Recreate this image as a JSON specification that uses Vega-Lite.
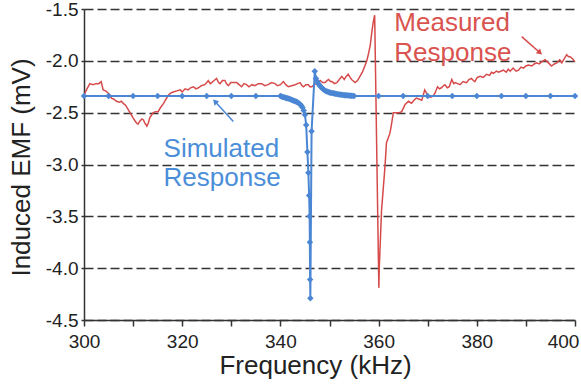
{
  "$schema": "https://vega.github.io/schema/vega-lite/v6.json",
  "width": 491,
  "height": 311,
  "autosize": {"type": "none"},
  "padding": {"left": 84, "top": 9, "right": 6, "bottom": 65},
  "background": "white",
  "config": {"view": {"stroke": null}, "font": "Liberation Sans"},
  "datasets": {
    "measured": [
      {"f": 300.0, "v": -2.33}, {"f": 300.6, "v": -2.27}, {"f": 301.2, "v": -2.22}, {"f": 301.8, "v": -2.23},
      {"f": 302.4, "v": -2.22}, {"f": 303.0, "v": -2.22}, {"f": 303.5, "v": -2.2}, {"f": 303.9, "v": -2.28},
      {"f": 304.4, "v": -2.29}, {"f": 304.9, "v": -2.31}, {"f": 305.3, "v": -2.33}, {"f": 305.6, "v": -2.36},
      {"f": 306.1, "v": -2.37}, {"f": 306.6, "v": -2.39}, {"f": 307.2, "v": -2.4}, {"f": 307.6, "v": -2.39},
      {"f": 308.0, "v": -2.41}, {"f": 308.5, "v": -2.43}, {"f": 309.0, "v": -2.47}, {"f": 309.5, "v": -2.51},
      {"f": 310.0, "v": -2.55}, {"f": 310.4, "v": -2.58}, {"f": 310.7, "v": -2.6}, {"f": 311.0, "v": -2.61},
      {"f": 311.4, "v": -2.58}, {"f": 311.8, "v": -2.56}, {"f": 312.1, "v": -2.57}, {"f": 312.4, "v": -2.6},
      {"f": 312.8, "v": -2.63}, {"f": 313.1, "v": -2.6}, {"f": 313.4, "v": -2.55}, {"f": 313.8, "v": -2.52},
      {"f": 314.1, "v": -2.5}, {"f": 314.6, "v": -2.49}, {"f": 315.1, "v": -2.49}, {"f": 315.6, "v": -2.45},
      {"f": 316.2, "v": -2.41}, {"f": 316.7, "v": -2.37}, {"f": 317.2, "v": -2.33}, {"f": 317.7, "v": -2.31},
      {"f": 318.2, "v": -2.3}, {"f": 318.9, "v": -2.29}, {"f": 319.6, "v": -2.28}, {"f": 320.0, "v": -2.3},
      {"f": 320.6, "v": -2.27}, {"f": 321.2, "v": -2.28}, {"f": 321.7, "v": -2.26}, {"f": 322.3, "v": -2.25},
      {"f": 322.8, "v": -2.27}, {"f": 323.3, "v": -2.26}, {"f": 323.9, "v": -2.24}, {"f": 324.6, "v": -2.23},
      {"f": 325.0, "v": -2.21}, {"f": 325.3, "v": -2.19}, {"f": 325.7, "v": -2.22}, {"f": 326.0, "v": -2.21},
      {"f": 326.5, "v": -2.19}, {"f": 327.0, "v": -2.17}, {"f": 327.4, "v": -2.21}, {"f": 327.7, "v": -2.22},
      {"f": 328.2, "v": -2.19}, {"f": 328.7, "v": -2.19}, {"f": 329.0, "v": -2.22}, {"f": 329.4, "v": -2.24},
      {"f": 329.9, "v": -2.21}, {"f": 330.4, "v": -2.21}, {"f": 331.1, "v": -2.21}, {"f": 331.6, "v": -2.23},
      {"f": 332.1, "v": -2.25}, {"f": 332.6, "v": -2.22}, {"f": 333.1, "v": -2.23}, {"f": 333.6, "v": -2.25},
      {"f": 334.2, "v": -2.23}, {"f": 334.8, "v": -2.24}, {"f": 335.5, "v": -2.22}, {"f": 336.2, "v": -2.22},
      {"f": 336.8, "v": -2.24}, {"f": 337.5, "v": -2.23}, {"f": 338.2, "v": -2.21}, {"f": 338.9, "v": -2.22},
      {"f": 339.4, "v": -2.24}, {"f": 340.0, "v": -2.23}, {"f": 340.6, "v": -2.2}, {"f": 341.1, "v": -2.23},
      {"f": 341.6, "v": -2.25}, {"f": 342.3, "v": -2.24}, {"f": 343.0, "v": -2.23}, {"f": 343.5, "v": -2.22},
      {"f": 344.0, "v": -2.21}, {"f": 344.4, "v": -2.24}, {"f": 344.7, "v": -2.25}, {"f": 345.2, "v": -2.23},
      {"f": 345.7, "v": -2.23}, {"f": 346.0, "v": -2.25}, {"f": 346.4, "v": -2.25}, {"f": 346.9, "v": -2.23},
      {"f": 347.4, "v": -2.22}, {"f": 348.1, "v": -2.19}, {"f": 348.6, "v": -2.21}, {"f": 349.1, "v": -2.21},
      {"f": 349.5, "v": -2.19}, {"f": 349.8, "v": -2.18}, {"f": 350.2, "v": -2.2}, {"f": 350.5, "v": -2.2},
      {"f": 351.0, "v": -2.22}, {"f": 351.5, "v": -2.21}, {"f": 352.0, "v": -2.18}, {"f": 352.5, "v": -2.15},
      {"f": 353.0, "v": -2.18}, {"f": 353.4, "v": -2.15}, {"f": 353.8, "v": -2.13}, {"f": 354.2, "v": -2.16},
      {"f": 354.5, "v": -2.18}, {"f": 355.2, "v": -2.21}, {"f": 355.7, "v": -2.19}, {"f": 356.2, "v": -2.15},
      {"f": 356.7, "v": -2.11}, {"f": 357.2, "v": -2.05}, {"f": 357.6, "v": -2.0}, {"f": 357.9, "v": -1.94},
      {"f": 358.3, "v": -1.85}, {"f": 358.6, "v": -1.73}, {"f": 358.9, "v": -1.63}, {"f": 359.2, "v": -1.56},
      {"f": 360.05, "v": -4.19}, {"f": 360.15, "v": -3.98}, {"f": 360.6, "v": -3.44}, {"f": 361.3, "v": -3.02},
      {"f": 361.6, "v": -2.79}, {"f": 362.3, "v": -2.7}, {"f": 362.6, "v": -2.62}, {"f": 363.0, "v": -2.5},
      {"f": 363.6, "v": -2.5}, {"f": 364.2, "v": -2.5}, {"f": 364.7, "v": -2.49}, {"f": 365.4, "v": -2.42},
      {"f": 366.1, "v": -2.39}, {"f": 366.7, "v": -2.41}, {"f": 367.2, "v": -2.38}, {"f": 367.7, "v": -2.36},
      {"f": 368.3, "v": -2.37}, {"f": 368.8, "v": -2.38}, {"f": 369.4, "v": -2.28}, {"f": 370.1, "v": -2.34},
      {"f": 370.6, "v": -2.35}, {"f": 371.1, "v": -2.34}, {"f": 371.5, "v": -2.31}, {"f": 372.0, "v": -2.25},
      {"f": 372.4, "v": -2.27}, {"f": 372.8, "v": -2.26}, {"f": 373.2, "v": -2.24}, {"f": 373.5, "v": -2.23},
      {"f": 374.0, "v": -2.26}, {"f": 374.4, "v": -2.25}, {"f": 374.9, "v": -2.18}, {"f": 375.3, "v": -2.22},
      {"f": 375.6, "v": -2.21}, {"f": 376.1, "v": -2.22}, {"f": 376.6, "v": -2.23}, {"f": 377.2, "v": -2.2},
      {"f": 377.9, "v": -2.21}, {"f": 378.4, "v": -2.18}, {"f": 378.9, "v": -2.17}, {"f": 379.3, "v": -2.19},
      {"f": 379.6, "v": -2.2}, {"f": 380.1, "v": -2.16}, {"f": 380.7, "v": -2.15}, {"f": 381.3, "v": -2.16},
      {"f": 382.0, "v": -2.13}, {"f": 382.6, "v": -2.14}, {"f": 383.0, "v": -2.11}, {"f": 383.4, "v": -2.12},
      {"f": 384.0, "v": -2.1}, {"f": 384.4, "v": -2.11}, {"f": 384.9, "v": -2.1}, {"f": 385.4, "v": -2.09},
      {"f": 386.0, "v": -2.11}, {"f": 386.4, "v": -2.08}, {"f": 386.8, "v": -2.1}, {"f": 387.4, "v": -2.07},
      {"f": 388.0, "v": -2.1}, {"f": 388.5, "v": -2.09}, {"f": 389.0, "v": -2.06}, {"f": 389.5, "v": -2.07},
      {"f": 390.0, "v": -2.05}, {"f": 390.5, "v": -2.04}, {"f": 391.2, "v": -2.05}, {"f": 391.7, "v": -2.03},
      {"f": 392.2, "v": -2.02}, {"f": 392.7, "v": -2.03}, {"f": 393.2, "v": -2.01}, {"f": 393.9, "v": -1.99},
      {"f": 394.6, "v": -2.02}, {"f": 395.2, "v": -2.05}, {"f": 395.8, "v": -2.03}, {"f": 396.3, "v": -2.02},
      {"f": 396.9, "v": -1.99}, {"f": 397.3, "v": -2.02}, {"f": 397.8, "v": -1.98}, {"f": 398.3, "v": -1.94},
      {"f": 398.7, "v": -1.96}, {"f": 399.0, "v": -1.96}, {"f": 399.5, "v": -1.98}, {"f": 400.0, "v": -2.01}
    ],
    "simulated": [
      {"f": 300, "v": -2.34}, {"f": 305, "v": -2.34}, {"f": 310, "v": -2.34}, {"f": 315, "v": -2.34},
      {"f": 320, "v": -2.34}, {"f": 325, "v": -2.34}, {"f": 330, "v": -2.34}, {"f": 335, "v": -2.34},
      {"f": 340.0, "v": -2.34}, {"f": 340.25, "v": -2.345}, {"f": 340.5, "v": -2.35}, {"f": 340.75, "v": -2.352},
      {"f": 341.0, "v": -2.355}, {"f": 341.25, "v": -2.36}, {"f": 341.5, "v": -2.362}, {"f": 341.75, "v": -2.365},
      {"f": 342.0, "v": -2.37}, {"f": 342.25, "v": -2.375}, {"f": 342.5, "v": -2.38}, {"f": 342.75, "v": -2.385},
      {"f": 343.0, "v": -2.39}, {"f": 343.25, "v": -2.395}, {"f": 343.5, "v": -2.4}, {"f": 343.75, "v": -2.41},
      {"f": 344.0, "v": -2.42}, {"f": 344.25, "v": -2.43}, {"f": 344.5, "v": -2.45}, {"f": 344.75, "v": -2.48},
      {"f": 345.0, "v": -2.52}, {"f": 345.25, "v": -2.62}, {"f": 345.5, "v": -2.88}, {"f": 345.7, "v": -3.08},
      {"f": 345.85, "v": -3.3}, {"f": 345.95, "v": -3.5}, {"f": 346.0, "v": -3.75}, {"f": 346.05, "v": -4.11},
      {"f": 346.1, "v": -4.29}, {"f": 346.35, "v": -2.68}, {"f": 347.0, "v": -2.1}, {"f": 347.25, "v": -2.17},
      {"f": 347.5, "v": -2.2}, {"f": 347.75, "v": -2.22}, {"f": 348.0, "v": -2.24}, {"f": 348.25, "v": -2.25},
      {"f": 348.5, "v": -2.265}, {"f": 348.75, "v": -2.275}, {"f": 349.0, "v": -2.285}, {"f": 349.25, "v": -2.29},
      {"f": 349.5, "v": -2.295}, {"f": 349.75, "v": -2.3}, {"f": 350.0, "v": -2.305}, {"f": 350.25, "v": -2.308},
      {"f": 350.5, "v": -2.31}, {"f": 350.75, "v": -2.313}, {"f": 351.0, "v": -2.315}, {"f": 351.25, "v": -2.318},
      {"f": 351.5, "v": -2.32}, {"f": 351.75, "v": -2.322}, {"f": 352.0, "v": -2.324}, {"f": 352.25, "v": -2.326},
      {"f": 352.5, "v": -2.328}, {"f": 352.75, "v": -2.33}, {"f": 353.0, "v": -2.331}, {"f": 353.25, "v": -2.332},
      {"f": 353.5, "v": -2.333}, {"f": 353.75, "v": -2.334}, {"f": 354.0, "v": -2.335}, {"f": 354.25, "v": -2.336},
      {"f": 354.5, "v": -2.337}, {"f": 354.75, "v": -2.338}, {"f": 355.0, "v": -2.339},
      {"f": 360, "v": -2.34}, {"f": 365, "v": -2.34}, {"f": 370, "v": -2.34}, {"f": 375, "v": -2.34},
      {"f": 380, "v": -2.34}, {"f": 385, "v": -2.34}, {"f": 390, "v": -2.34}, {"f": 395, "v": -2.34},
      {"f": 400, "v": -2.34}
    ],
    "arrows": [
      {"series": "Measured", "f": 389.14, "v": -1.767, "f2": 392.87, "v2": -1.922},
      {"series": "Simulated", "f": 330.41, "v": -2.585, "f2": 326.68, "v2": -2.392}
    ],
    "labels": [
      {"series": "Measured", "label": "Measured", "f": 363.2, "v": -1.709},
      {"series": "Measured", "label": "Response", "f": 363.2, "v": -1.999},
      {"series": "Simulated", "label": "Simulated", "f": 316.2, "v": -2.926},
      {"series": "Simulated", "label": "Response", "f": 316.2, "v": -3.212}
    ]
  },
  "encoding": {
    "x": {
      "field": "f",
      "type": "quantitative",
      "scale": {"domain": [300, 400], "nice": false, "zero": false},
      "axis": {
        "values": [300, 310, 320, 330, 340, 350, 360, 370, 380, 390, 400],
        "labelExpr": "datum.value % 20 == 0 ? format(datum.value, 'd') : ''",
        "grid": false,
        "tickSize": 6,
        "tickColor": "#333333",
        "tickWidth": 1.5,
        "domainColor": "#333333",
        "domainWidth": 1.5,
        "labelFontSize": 19,
        "labelColor": "#222222",
        "labelBaseline": "alphabetic",
        "labelPadding": 21,
        "labelOffset": {"condition": {"test": "datum.value == 400", "value": -12}, "value": 0},
        "labelFlush": false,
        "labelOverlap": false,
        "title": "Frequency (kHz)",
        "titleFontSize": 26,
        "titleFontWeight": "normal",
        "titleColor": "#222222",
        "titleX": 231,
        "titleY": 53,
        "titleAlign": "center",
        "titleBaseline": "alphabetic"
      }
    },
    "y": {
      "field": "v",
      "type": "quantitative",
      "scale": {"domain": [-4.5, -1.5], "nice": false, "zero": false},
      "axis": {
        "values": [-4.5, -4.0, -3.5, -3.0, -2.5, -2.0, -1.5],
        "labelExpr": "replace(format(datum.value, '.1f'), '\u2212', '-')",
        "grid": true,
        "gridDash": [9, 4],
        "gridColor": "#333333",
        "gridWidth": 1.3,
        "tickSize": 3,
        "tickColor": "#333333",
        "tickWidth": 1.5,
        "domainColor": "#333333",
        "domainWidth": 1.5,
        "labelFontSize": 19,
        "labelColor": "#222222",
        "labelPadding": 3,
        "labelFlush": false,
        "labelOverlap": false,
        "title": "Induced EMF (mV)",
        "titleFontSize": 26,
        "titleFontWeight": "normal",
        "titleColor": "#222222",
        "titleAngle": -90,
        "titleX": -55,
        "titleY": 158,
        "titleAlign": "center",
        "titleBaseline": "alphabetic"
      }
    }
  },
  "layer": [
    {
      "data": {"name": "measured"},
      "mark": {"type": "line", "color": "#d64a4a", "strokeWidth": 1.5}
    },
    {
      "data": {"name": "simulated"},
      "mark": {
        "type": "line",
        "color": "#4a86d4",
        "strokeWidth": 2,
        "point": {"shape": "diamond", "size": 42, "filled": true, "color": "#4a86d4", "opacity": 1}
      }
    },
    {
      "data": {"name": "arrows"},
      "transform": [{"filter": "datum.series == 'Measured'"}],
      "mark": {"type": "rule", "color": "#d64a4a", "strokeWidth": 1.5},
      "encoding": {"x2": {"field": "f2"}, "y2": {"field": "v2"}}
    },
    {
      "data": {"name": "arrows"},
      "transform": [{"filter": "datum.series == 'Measured'"}],
      "mark": {"type": "point", "shape": "triangle-up", "filled": true, "color": "#d64a4a", "size": 40, "angle": 131, "opacity": 1},
      "encoding": {"x": {"field": "f2", "type": "quantitative"}, "y": {"field": "v2", "type": "quantitative"}}
    },
    {
      "data": {"name": "arrows"},
      "transform": [{"filter": "datum.series == 'Simulated'"}],
      "mark": {"type": "rule", "color": "#4a86d4", "strokeWidth": 1.5},
      "encoding": {"x2": {"field": "f2"}, "y2": {"field": "v2"}}
    },
    {
      "data": {"name": "arrows"},
      "transform": [{"filter": "datum.series == 'Simulated'"}],
      "mark": {"type": "point", "shape": "triangle-up", "filled": true, "color": "#4a86d4", "size": 40, "angle": 317, "opacity": 1},
      "encoding": {"x": {"field": "f2", "type": "quantitative"}, "y": {"field": "v2", "type": "quantitative"}}
    },
    {
      "data": {"name": "labels"},
      "transform": [{"filter": "datum.series == 'Measured'"}],
      "mark": {"type": "text", "align": "left", "baseline": "alphabetic", "fontSize": 26, "color": "#d9534f"},
      "encoding": {"text": {"field": "label"}}
    },
    {
      "data": {"name": "labels"},
      "transform": [{"filter": "datum.series == 'Simulated'"}],
      "mark": {"type": "text", "align": "left", "baseline": "alphabetic", "fontSize": 26, "color": "#4a8ed9"},
      "encoding": {"text": {"field": "label"}}
    }
  ]
}
